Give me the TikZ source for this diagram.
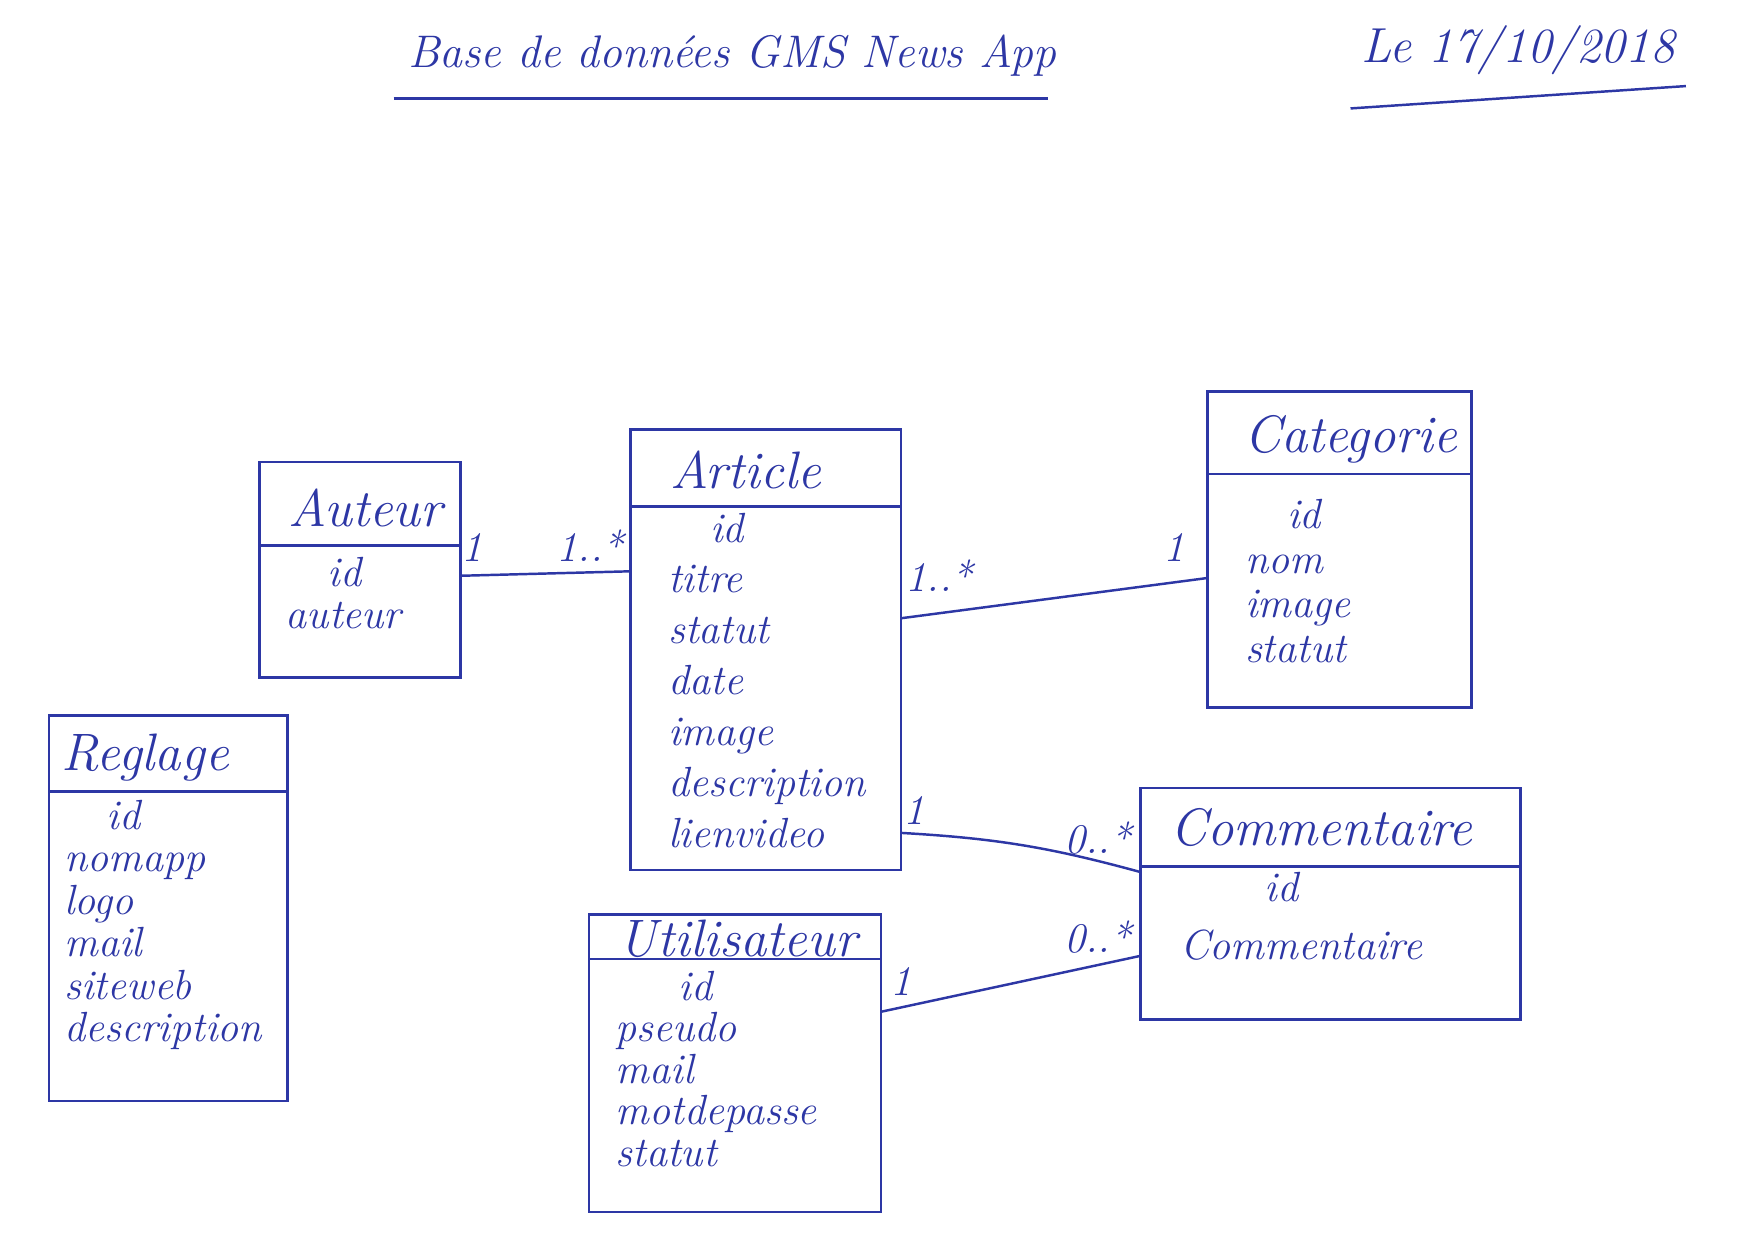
\documentclass[tikz,border=0pt]{standalone}
\usepackage{tikz}
\usetikzlibrary{positioning,fit}
\definecolor{ink}{RGB}{45,55,165}
\tikzset{
    ink line/.style={draw=ink, line width=.7pt},
    classbox/.style={ink line, inner sep=0pt, outer sep=0pt},
    classname/.style={text=ink, font=\fontsize{15}{17}\selectfont\itshape},
    attrs/.style={text=ink, font=\fontsize{12}{#1}\selectfont\itshape, align=left, anchor=north west, inner sep=0pt},
    attrs/.default=13,
    mult/.style={text=ink, font=\fontsize{12}{13}\selectfont\itshape, inner sep=1pt},
    assoc/.style={ink line},
}

\begin{document}
\begin{tikzpicture}[x=0.01118cm, y=-0.01118cm]
    \path[use as bounding box, fill=white] (0,0) rectangle (1568,1109);
    % heading
    \node[classname, font=\fontsize{13}{15}\selectfont\itshape] (title) at (655,50) {Base de données GMS News App};
    \node[classname, font=\fontsize{14}{16}\selectfont\itshape] (date) at (1358,45) {Le 17/10/2018};
    \draw[ink line] (352,88) -- (937,88);
    \draw[ink line] (1208,97) -- (1508,77);

    % Auteur
    \node[classbox, fit={(232,413) (412,606)}] (auteur) {};
    \draw[ink line] (auteur.west |- 0,488) -- (auteur.east |- 0,488);
    \node[classname] (auteur-name) at (327,454) {Auteur};
    \node[attrs=12] (auteur-attr) at (255,498) {\hspace*{1em}id\\auteur};

    % Article
    \node[classbox, fit={(564,384) (806,778)}] (article) {};
    \draw[ink line] (article.west |- 0,453) -- (article.east |- 0,453);
    \node[classname] (article-name) at (667,420) {Article};
    \node[attrs=14.5] (article-attr) at (597,458) {\hspace*{1em}id\\titre\\statut\\date\\image\\description\\lienvideo};

    % Categorie
    \node[classbox, fit={(1080,350) (1316,633)}] (categorie) {};
    \draw[ink line] (categorie.west |- 0,424) -- (categorie.east |- 0,424);
    \node[classname] (categorie-name) at (1208,393) {Categorie};
    \node[attrs=12.7] (categorie-attr) at (1113,446) {\hspace*{1em}id\\nom\\image\\statut};

    % Reglage
    \node[classbox, fit={(44,640) (257,985)}] (reglage) {};
    \draw[ink line] (reglage.west |- 0,708) -- (reglage.east |- 0,708);
    \node[classname] (reglage-name) at (130,678) {Reglage};
    \node[attrs=12.1] (reglage-attr) at (57,715) {\hspace*{1em}id\\nomapp\\logo\\mail\\siteweb\\description};

    % Utilisateur
    \node[classbox, fit={(527,818) (788,1084)}] (utilisateur) {};
    \draw[ink line] (utilisateur.west |- 0,858) -- (utilisateur.east |- 0,858);
    \node[classname] (utilisateur-name) at (660,840) {Utilisateur};
    \node[attrs=11.8] (utilisateur-attr) at (550,868) {\hspace*{1.5em}id\\pseudo\\mail\\motdepasse\\statut};

    % Commentaire
    \node[classbox, fit={(1020,705) (1360,912)}] (commentaire) {};
    \draw[ink line] (commentaire.west |- 0,775) -- (commentaire.east |- 0,775);
    \node[classname] (commentaire-name) at (1182,740) {Commentaire};
    \node[attrs=16.5] (commentaire-attr) at (1055,780) {\hspace*{2em}id\\Commentaire};

    % associations
    \draw[assoc] (auteur.east |- 0,515) -- (article.west |- 0,511);
    \node[mult] (m-auteur) at (422,490) {1};
    \node[mult] (m-article1) at (528,488) {1..*};

    \draw[assoc] (article.east |- 0,553) -- (categorie.west |- 0,517);
    \node[mult] (m-article2) at (840,515) {1..*};
    \node[mult] (m-categorie) at (1050,490) {1};

    \draw[assoc] (article.east |- 0,745) to[bend left=6] (commentaire.west |- 0,780);
    \node[mult] (m-article3) at (818,725) {1};
    \node[mult] (m-commentaire1) at (982,750) {0..*};

    \draw[assoc] (utilisateur.east |- 0,905) -- (commentaire.west |- 0,855);
    \node[mult] (m-utilisateur) at (806,878) {1};
    \node[mult] (m-commentaire2) at (982,838) {0..*};
\end{tikzpicture}
\end{document}
